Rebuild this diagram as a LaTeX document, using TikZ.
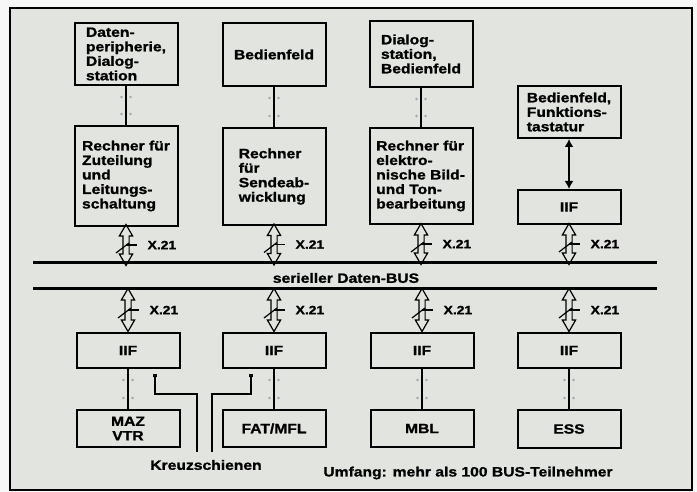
\documentclass[tikz,border=0pt]{standalone}
\usepackage{fontspec}
\setmainfont{Liberation Sans}[FakeStretch=1.16,BoldFeatures={FakeBold=1.2}]
\usepackage{tikz}
\usetikzlibrary{arrows.meta,positioning,shapes.arrows,calc}
\definecolor{paper}{RGB}{226,229,223}
\newcommand\boxfont{\bfseries\fontsize{13.5}{14.5}\selectfont}

\begin{document}
\begin{tikzpicture}[x=1pt,y=-1pt,
 box/.style={draw,line width=2pt,align=left,inner sep=2pt,font=\boxfont,minimum width=103pt},
 iface/.style={box,align=center,minimum height=35pt},
 x21/.style={draw,line width=1.2pt,shape=double arrow,shape border rotate=90,inner sep=2.5pt,
  double arrow head extend=3.5pt,double arrow tip angle=60,minimum width=12pt,minimum height=#1},
 lbl/.style={font=\bfseries\fontsize{12}{14}\selectfont,inner sep=0pt},
 title/.style={font=\boxfont,inner sep=0pt},
 wire/.style={draw=black,line width=2.2pt},
 dot/.style={fill=gray!70,draw=none},
 bus/.style={line width=3pt},
 rail/.style={line width=1.5pt,{Square[length=3pt,width=4pt]}-},
 arr/.style={{Latex[length=8pt,width=9pt]}-{Latex[length=8pt,width=9pt]},line width=2pt}]
\useasboundingbox (0,0) rectangle (697,492);
\fill[white!94!gray] (0,0) rectangle (697,492);
\draw[fill=paper,line width=2pt] (10,8) rectangle (692,490);
\node[box,minimum height=62pt,anchor=north] (dp) at (126,22) {Daten-\\peripherie,\\Dialog-\\station};
\node[box,minimum height=63pt,anchor=north,align=center] (bf1) at (274,22) {Bedienfeld};
\node[box,minimum height=66pt,anchor=north] (ds) at (421,20) {Dialog-\\station,\\Bedienfeld};
\node[box,minimum height=52pt,anchor=north] (bf2) at (569,85) {Bedienfeld,\\Funktions-\\tastatur};
\node[box,minimum height=100pt,below=39pt of dp] (r1) {Rechner für\\Zuteilung\\und\\Leitungs-\\schaltung};
\node[box,minimum height=97pt,below=40pt of bf1] (r2) {Rechner\\für\\Sendeab-\\wicklung};
\node[box,minimum height=96pt,below=39pt of ds] (r3) {Rechner für\\elektro-\\nische Bild-\\und Ton-\\bearbeitung};
\node[iface,minimum height=34pt,below=50pt of bf2] (i0) {IIF};
\coordinate (b1w) at (33,263); \coordinate (b1e) at (657,263);
\coordinate (b2w) at (33,288); \coordinate (b2e) at (657,288);
\draw[bus] (b1w) -- (b1e); \draw[bus] (b2w) -- (b2e);
\node[title] (busl) at (346,278) {serieller Daten-BUS};
\node[iface,anchor=north] (i1) at (128,332) {IIF};
\node[iface,anchor=north] (i2) at (274,332) {IIF};
\node[iface,anchor=north] (i3) at (422,332) {IIF};
\node[iface,anchor=north] (i4) at (569,332) {IIF};
\node[box,align=center,minimum height=37pt,below=40pt of i1] (m1) {MAZ\\VTR};
\node[box,align=center,minimum height=37pt,below=40pt of i2] (m2) {FAT/MFL};
\node[box,align=center,minimum height=37pt,below=40pt of i3] (m3) {MBL};
\node[box,align=center,minimum height=38pt,below=40pt of i4] (m4) {ESS};
\foreach \n/\t/\e/\h in {u1/r1.south/b1w/41pt,u2/r2.south/b1w/41pt,u3/r3.south/b1w/41pt,u4/i0.south/b1w/41pt,
  d1/i1.north/b2w/43pt,d2/i2.north/b2w/43pt,d3/i3.north/b2w/43pt,d4/i4.north/b2w/43pt} {
  \path (\t |- \e) -- (\t) node[midway,x21=\h] (\n) {};
  \draw[line width=1.2pt] ([shift={(-10,8)}]\n.center) -- ([shift={(3,-2)}]\n.center);
  \draw[line width=1.2pt] (\n.center) -- ++(11,0) node[lbl,anchor=west,xshift=10pt] (\n l) {X.21};
}
\foreach \a/\b in {dp/r1,bf1/r2,ds/r3,i1/m1,i2/m2,i3/m3,i4/m4} {
  \path ($(\a.south)!11pt!(\b.north)$) coordinate (u) ($(\b.north)!11pt!(\a.south)$) coordinate (v);
  \foreach \c in {u,v} \fill[dot] ([xshift=-4.5pt]\c) circle (1.3pt) ([xshift=4.5pt]\c) circle (1.3pt);
  \draw[wire] (\a.south) -- (\b.north);
}
\draw[arr] (bf2) -- (i0);
\node[title] (ks) at (206,465) {Kreuzschienen};
\coordinate (k1) at (197,452); \coordinate (k2) at (212,452);
\draw[rail] ([xshift=27pt,yshift=-5pt]i1.south) -- ++(0,20) -| (k1);
\draw[rail] ([xshift=-23pt,yshift=-5pt]i2.south) -- ++(0,20) -| (k2);
\node[title] (umf) at (468,473) {Umfang: mehr als 100 BUS-Teilnehmer};
\end{tikzpicture}
\end{document}
